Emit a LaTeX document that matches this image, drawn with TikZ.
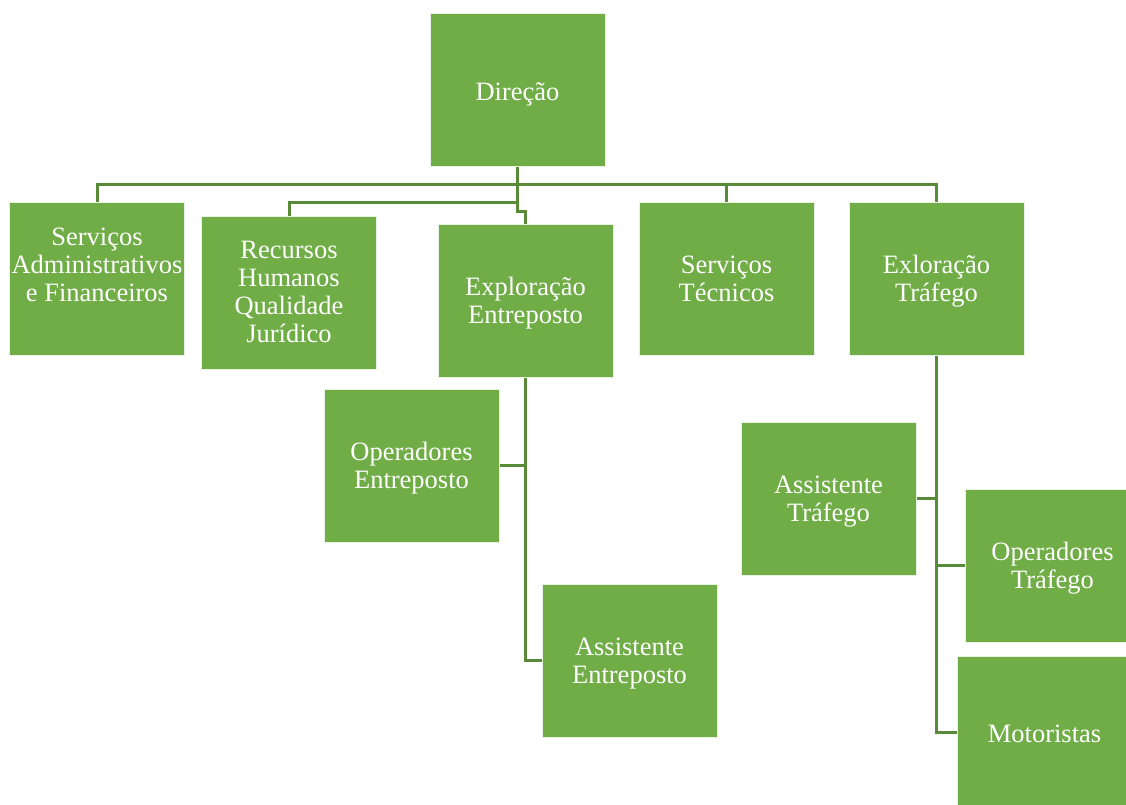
\documentclass[tikz,border=0pt]{standalone}
\usepackage{fontspec}
\setmainfont{Liberation Serif}
\definecolor{boxgreen}{HTML}{70AD47}
\definecolor{linegreen}{HTML}{578B38}
\begin{document}
\begin{tikzpicture}[x=1pt,y=-1pt,
  boxtext/.style={align=center, text=white, inner sep=0pt, yshift=-4pt,
    font=\fontsize{26.5}{28}\selectfont,
    execute at begin node=\strut, execute at end node=\strut},
  box/.style={rectangle, fill=boxgreen, draw=white!85!boxgreen, line width=1pt,
    minimum width=175pt, minimum height=153pt, inner sep=0pt,
    label={[boxtext]center:{#1}}},
  conn/.style={draw=linegreen, line width=3pt}]
\useasboundingbox (0,0) rectangle (1126,805);
\clip (0,0) rectangle (1126,805);
% boxes
\node[box={Direção}] (dir) at (517.5,90.5) {};
\node[box={Serviços\\Administrativos\\e Financeiros\\\mbox{}}] (sa) at (97,278.5) {};
\node[box={Recursos\\Humanos\\Qualidade\\Jurídico}] (rh) at (289,292.5) {};
\node[box={Exploração\\Entreposto}] (ee) at (525.5,300.5) {};
\node[box={Serviços\\Técnicos}] (st) at (726.5,278.5) {};
\node[box={Exloração\\Tráfego}] (et) at (936.5,278.5) {};
\node[box={Operadores\\Entreposto}] (oe) at (411.5,465.5) {};
\node[box={Assistente\\Entreposto}] (ae) at (629.5,660.5) {};
\node[box={Assistente\\Tráfego}] (at) at (828.5,498.5) {};
\node[box={Operadores\\Tráfego}] (ot) at (1052.5,565.5) {};
\node[box={Motoristas}] (mo) at (1044.5,732.5) {};
% connectors
\coordinate (k0) at (517.5,185);
\coordinate (k1) at (517.5,211);
\coordinate (k2) at (517.5,202);
\draw[conn] (sa.north) |- (k0) -| (et.north);
\draw[conn] (st.north) -- (st.north |- k0);
\draw[conn] (dir.south) -- (k1) -| (ee.north);
\draw[conn] (k2) -| (rh.north);
\draw[conn] (ee.south) |- (ae.west);
\draw[conn] (oe.east) -- (oe.east -| ee.south);
\draw[conn] (et.south) |- (mo.west);
\draw[conn] (at.east) -- (at.east -| et.south);
\draw[conn] (ot.west) -- (ot.west -| et.south);
\end{tikzpicture}
\end{document}
